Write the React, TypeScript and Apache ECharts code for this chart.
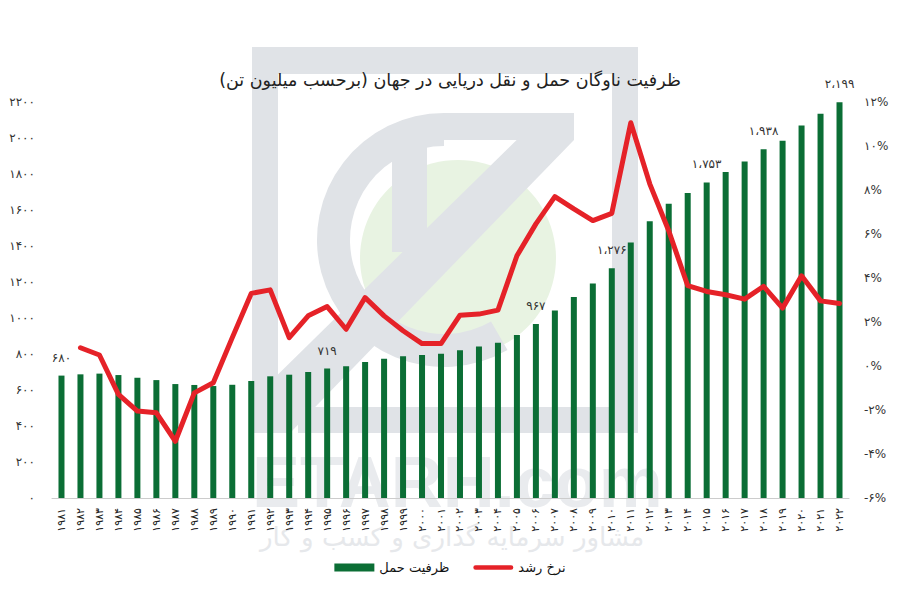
import React, { useEffect, useRef } from "react";
import * as echarts from "echarts";

const years = [
  1981, 1982, 1983, 1984, 1985, 1986, 1987, 1988, 1989, 1990,
  1991, 1992, 1993, 1994, 1995, 1996, 1997, 1998, 1999, 2000,
  2001, 2002, 2003, 2004, 2005, 2006, 2007, 2008, 2009, 2010,
  2011, 2012, 2013, 2014, 2015, 2016, 2017, 2018, 2019, 2020,
  2021, 2022,
];

const capacity = [
  680, 687, 691, 683, 668, 655, 633, 628, 622, 629,
  650, 676, 685, 700, 719, 732, 756, 773, 788, 795,
  802, 821, 841, 863, 906, 967, 1042, 1116, 1192, 1276,
  1419, 1538, 1635, 1694, 1753, 1811, 1869, 1938, 1985, 2070,
  2135, 2199,
];

const growth = [
  null, 0.83, 0.5, -1.29, -2.05, -2.13, -3.42, -1.22, -0.76, 1.29,
  3.3, 3.46, 1.29, 2.28, 2.7, 1.67, 3.11, 2.28, 1.6, 1.02,
  1.02, 2.31, 2.36, 2.54, 5.01, 6.46, 7.7, 7.14, 6.61, 6.94,
  11.06, 8.28, 6.15, 3.65, 3.39, 3.24, 3.04, 3.62, 2.63, 4.1,
  2.96, 2.84,
];

const labeledYears = [1981, 1995, 2006, 2010, 2015, 2018, 2022];

const titleText = "ظرفیت ناوگان حمل و نقل دریایی در جهان (برحسب میلیون تن)";
const barName = "ظرفیت حمل";
const lineName = "نرخ رشد";
const wmLatin = "ETARH.com";
const wmPersian = "مشاور سرمایه گذاری و کسب و کار";

const FA = "۰۱۲۳۴۵۶۷۸۹";
const toFa = (v: number | string) =>
  String(v).replace(/\d/g, (d) => FA[Number(d)]);
const fmtVal = (n: number) => {
  if (n >= 1000) {
    const th = Math.floor(n / 1000);
    const rest = String(n % 1000).padStart(3, "0");
    return toFa(th) + "،" + toFa(rest);
  }
  return toFa(n);
};

const FONT = "DejaVu Sans";
const WM_GREY = "#e0e3e7";
const LINE_ICON =
  "path://M2.5,0 L41.5,0 A2.5,2.5 0 0 1 41.5,5 L2.5,5 A2.5,2.5 0 0 1 2.5,0 Z";

export default function App() {
  const ref = useRef<HTMLDivElement>(null);
  useEffect(() => {
    document.body.style.margin = "0";
    const chart = echarts.init(ref.current!, null, { renderer: "svg" });
    const barData = capacity.map((v, i) =>
      labeledYears.includes(years[i])
        ? { value: v, label: { show: true } }
        : { value: v }
    );
    const option = {
      animation: false,
      backgroundColor: "#ffffff",
      textStyle: { fontFamily: FONT },
      title: {
        text: titleText + "\u200F",
        left: "center",
        top: 66,
        textStyle: {
          fontFamily: FONT,
          fontSize: 17.5,
          fontWeight: "normal",
          color: "#222",
        },
      },
      grid: { left: 52, right: 51, top: 102, bottom: 102 },
      legend: {
        data: [
          { name: barName, icon: "rect" },
          { name: lineName, icon: LINE_ICON },
        ],
        top: 556,
        left: "center",
        itemWidth: 40,
        itemHeight: 8,
        itemGap: 24,
        textStyle: { fontFamily: FONT, fontSize: 13, color: "#111" },
      },
      xAxis: {
        type: "category",
        data: years.map((y) => toFa(y)),
        axisTick: { show: false },
        axisLine: { lineStyle: { color: "#cccccc", width: 1 } },
        axisLabel: {
          rotate: 90,
          interval: 0,
          margin: 10,
          fontSize: 11,
          color: "#222",
          fontFamily: FONT,
        },
      },
      yAxis: [
        {
          type: "value",
          min: 0,
          max: 2200,
          interval: 200,
          splitLine: { show: false },
          axisLine: { show: false },
          axisTick: { show: false },
          axisLabel: {
            margin: 17,
            fontSize: 12,
            color: "#333",
            fontFamily: FONT,
            formatter: (v: number) => toFa(v),
          },
        },
        {
          type: "value",
          position: "right",
          min: -6,
          max: 12,
          interval: 2,
          splitLine: { show: false },
          axisLine: { show: false },
          axisTick: { show: false },
          axisLabel: {
            margin: 15,
            fontSize: 12,
            color: "#333",
            fontFamily: FONT,
            formatter: (v: number) => toFa(v) + "%",
          },
        },
      ],
      series: [
        {
          name: barName,
          type: "bar",
          data: barData,
          barWidth: 6,
          itemStyle: { color: "#0b6e35" },
          label: {
            show: false,
            position: "top",
            distance: 12,
            fontSize: 12,
            color: "#333",
            fontFamily: FONT,
            formatter: (p: any) => fmtVal(p.value),
          },
          z: 2,
        },
        {
          name: lineName,
          type: "line",
          yAxisIndex: 1,
          data: growth,
          showSymbol: false,
          symbol: "none",
          lineStyle: { color: "#e52228", width: 5, cap: "round", join: "round" },
          itemStyle: { color: "#e52228" },
          z: 3,
        },
      ],
      graphic: [
        // watermark frame
        { type: "rect", z: -10, shape: { x: 252, y: 47, width: 386, height: 27 }, style: { fill: WM_GREY } },
        { type: "rect", z: -10, shape: { x: 252, y: 47, width: 26, height: 386 }, style: { fill: WM_GREY } },
        { type: "rect", z: -10, shape: { x: 612, y: 47, width: 26, height: 386 }, style: { fill: WM_GREY } },
        { type: "rect", z: -10, shape: { x: 298, y: 407, width: 340, height: 26 }, style: { fill: WM_GREY } },
        // light green disc
        { type: "circle", z: -10, shape: { cx: 458, cy: 258, r: 98 }, style: { fill: "#e8f3e2" } },
        // grey C ring
        {
          type: "sector",
          z: -9,
          shape: { cx: 444, cy: 240, r: 127, r0: 94, startAngle: Math.PI / 3, endAngle: (3 * Math.PI) / 2, clockwise: true },
          style: { fill: WM_GREY },
        },
        { type: "rect", z: -9, shape: { x: 444, y: 113, width: 130, height: 27 }, style: { fill: WM_GREY } },
        // diagonal stripe
        {
          type: "polygon",
          z: -9,
          shape: { points: [[544, 113], [574, 113], [574, 140], [290, 433], [252, 433], [252, 400]] },
          style: { fill: WM_GREY },
        },
        // inner vertical bar
        { type: "rect", z: -9, shape: { x: 392, y: 140, width: 35, height: 112 }, style: { fill: WM_GREY } },
        // watermark texts
        {
          type: "text",
          z: -8,
          x: 252,
          y: 518,
          style: {
            text: wmLatin,
            fill: "#e9ebee",
            font: "bold 72px 'Liberation Sans', Arial, sans-serif",
            textVerticalAlign: "bottom",
          },
        },
        {
          type: "text",
          z: -8,
          x: 452,
          y: 537,
          style: {
            text: wmPersian,
            fill: "#e6e8eb",
            font: "26px 'DejaVu Sans', sans-serif",
            textAlign: "center",
            textVerticalAlign: "middle",
          },
        },
      ],
    };
    chart.setOption(option as any);
    return () => chart.dispose();
  }, []);
  return (
    <div
      ref={ref}
      style={{ position: "absolute", left: 0, top: 0, width: 900, height: 600 }}
    />
  );
}
